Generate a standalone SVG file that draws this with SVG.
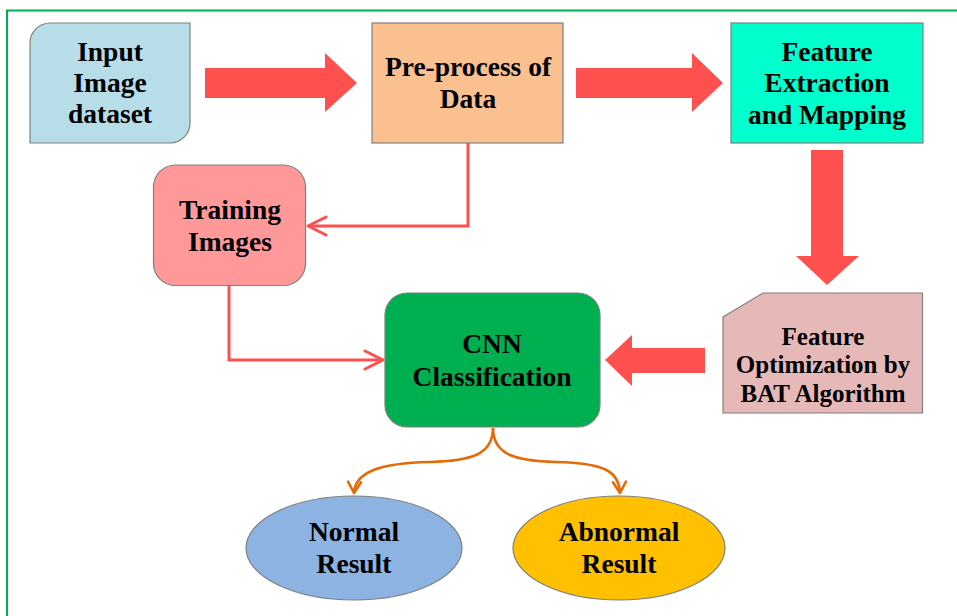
<svg xmlns="http://www.w3.org/2000/svg" width="957" height="616" viewBox="0 0 957 616">
<defs>
<style>
.box{stroke:#7f7f7f;stroke-width:1.2}
.t{font-family:'Liberation Serif','DejaVu Serif','Times New Roman',Times,serif;font-weight:700;font-size:27.5px;fill:#000;text-anchor:middle}
.ts{font-size:25px}
.blk{fill:#ff5050}
.ln{fill:none;stroke:#ff5050;stroke-width:3}
.or{fill:none;stroke:#e36c0a;stroke-width:2.6}
</style>
<marker id="ah" markerUnits="userSpaceOnUse" viewBox="-22 -12 24 24" markerWidth="24" markerHeight="24" refX="0" refY="0" orient="auto">
<path d="M-18,-9 L0,0 L-18,9" fill="none" stroke="#ff5050" stroke-width="3" stroke-linecap="round" stroke-linejoin="round"/>
</marker>
<marker id="ao" markerUnits="userSpaceOnUse" viewBox="-14 -9 16 18" markerWidth="16" markerHeight="18" refX="0" refY="0" orient="auto">
<path d="M-11,-6.5 L0,0 L-11,6.5" fill="none" stroke="#e36c0a" stroke-width="2.6" stroke-linecap="round" stroke-linejoin="round"/>
</marker>
</defs>
<rect width="957" height="616" fill="#fff"/>
<path d="M7,616 V10.5 H957" fill="none" stroke="#00b050" stroke-width="2"/>

<g id="connectors">
<polygon class="blk" points="205,68 325,68 325,53 357,83 325,112 325,98 205,98"/>
<polygon class="blk" points="576,68 692,68 692,53 723,83 692,112 692,98 576,98"/>
<polygon class="blk" points="811,150 843,150 843,256 859,256 827,285 796,256 811,256"/>
<polygon class="blk" points="705,348 632,348 632,335 605,360 632,386 632,373 705,373"/>
<path class="ln" d="M468,143 V226 H308" marker-end="url(#ah)"/>
<path class="ln" d="M229,286 V360 H383" marker-end="url(#ah)"/>
<path class="or" d="M493,428 C493,455 470,461 430,462 C380,463 355,472 354,493" marker-end="url(#ao)"/>
<path class="or" d="M493,428 C493,455 516,461 556,462 C606,463 619,472 620,493" marker-end="url(#ao)"/>
</g>

<g id="input">
<path class="box" fill="#b7dde8" d="M50,23 H190 V123 A20,20 0 0 1 170,143 H30 V43 A20,20 0 0 1 50,23 Z"/>
<text class="t" x="110" y="61" font-family="Liberation Serif, serif">Input</text>
<text class="t" x="110" y="92" font-family="Liberation Serif, serif">Image</text>
<text class="t" x="110" y="123" font-family="Liberation Serif, serif">dataset</text>
</g>

<g id="preprocess">
<rect class="box" fill="#fac090" x="372" y="23" width="191" height="120"/>
<text class="t" x="468" y="76">Pre-process of</text>
<text class="t" x="468" y="108">Data</text>
</g>

<g id="feature-extraction">
<rect class="box" fill="#00ffcc" x="731" y="23" width="192" height="120"/>
<text class="t" x="827" y="61">Feature</text>
<text class="t" x="827" y="92">Extraction</text>
<text class="t" x="827" y="124">and Mapping</text>
</g>

<g id="training">
<rect class="box" fill="#ff9999" x="153.5" y="165" width="152" height="120.5" rx="22"/>
<text class="t" x="230" y="219">Training</text>
<text class="t" x="230" y="251">Images</text>
</g>

<g id="cnn">
<rect class="box" fill="#00b050" x="385" y="293" width="215" height="134" rx="22"/>
<text class="t" x="492" y="353">CNN</text>
<text class="t" x="492" y="386">Classification</text>
</g>

<g id="optimization">
<path class="box" fill="#e6b9b8" d="M723,317 L763,293 H922.5 V413 H723 Z"/>
<text class="t ts" x="823" y="345">Feature</text>
<text class="t ts" x="823" y="373">Optimization by</text>
<text class="t ts" x="823" y="402">BAT Algorithm</text>
</g>

<g id="normal">
<ellipse class="box" fill="#8db3e2" cx="354" cy="548" rx="108" ry="52"/>
<text class="t" x="354" y="541">Normal</text>
<text class="t" x="354" y="573">Result</text>
</g>

<g id="abnormal">
<ellipse class="box" fill="#ffc000" cx="619" cy="548" rx="106" ry="52"/>
<text class="t" x="619" y="541">Abnormal</text>
<text class="t" x="619" y="573">Result</text>
</g>
</svg>
